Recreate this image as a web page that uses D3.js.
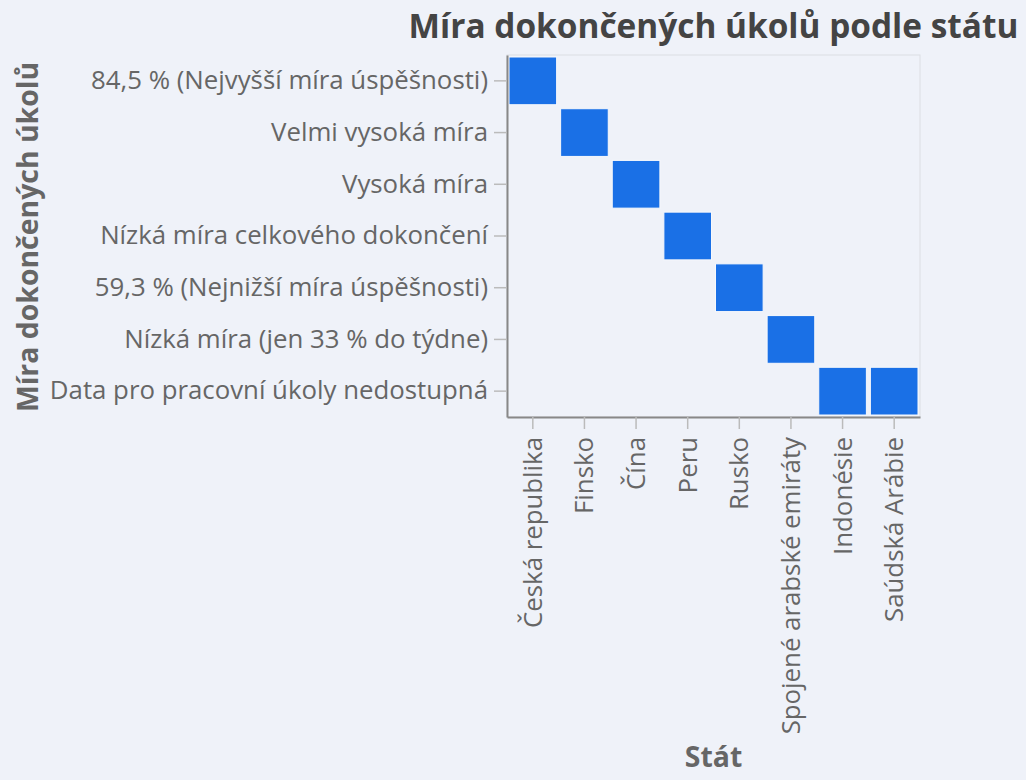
<!DOCTYPE html>
<html>
<head>
<meta charset="utf-8">
<script src="https://cdn.jsdelivr.net/npm/d3@7"></script>
<style>
  html, body { margin: 0; padding: 0; background: #eff2f9; }
  svg { display: block; }
</style>
</head>
<body>
<svg id="chart" width="1026" height="780"></svg>
<script>
// categories
const countries = ["Česká republika", "Finsko", "Čína", "Peru", "Rusko",
  "Spojené arabské emiráty", "Indonésie", "Saúdská Arábie"];
const rates = ["84,5 % (Nejvyšší míra úspěšnosti)", "Velmi vysoká míra", "Vysoká míra",
  "Nízká míra celkového dokončení", "59,3 % (Nejnižší míra úspěšnosti)",
  "Nízká míra (jen 33 % do týdne)", "Data pro pracovní úkoly nedostupná"];
// which rate each country falls in
const countryRate = ["84,5 % (Nejvyšší míra úspěšnosti)", "Velmi vysoká míra", "Vysoká míra",
  "Nízká míra celkového dokončení", "59,3 % (Nejnižší míra úspěšnosti)",
  "Nízká míra (jen 33 % do týdne)", "Data pro pracovní úkoly nedostupná",
  "Data pro pracovní úkoly nedostupná"];

const cells = countries.map((c, i) => ({country: c, rate: countryRate[i]}));

const svg = d3.select("#chart");
const mLeft = 507, mTop = 55, w = 413, h = 362;
const g = svg.append("g").attr("transform", `translate(${mLeft},${mTop})`);

const x = d3.scaleBand().domain(countries).range([0, w]);
const y = d3.scaleBand().domain(rates).range([0, h]);

// frame (light top/right)
g.append("rect").attr("width", w).attr("height", h)
  .attr("fill", "none").attr("stroke", "#dcdee3").attr("stroke-width", 1);

g.selectAll("rect.cell").data(cells).enter().append("rect")
  .attr("class", "cell")
  .attr("x", d => x(d.country) + 2)
  .attr("y", d => y(d.rate) + 2)
  .attr("width", x.bandwidth() - 4)
  .attr("height", y.bandwidth() - 4)
  .attr("fill", "#1a70e6")
  .attr("stroke", "#f6f8fc")
  .attr("stroke-width", 1);

const font = "'Open Sans', 'Noto Sans', sans-serif";

const yAx = g.append("g").call(d3.axisLeft(y).tickSize(13).tickSizeOuter(0).tickPadding(6));
const xAx = g.append("g").attr("transform", `translate(0,${h})`)
  .call(d3.axisBottom(x).tickSize(12).tickSizeOuter(0));

[yAx, xAx].forEach(a => {
  a.select(".domain").attr("stroke", "#888").attr("stroke-width", 2);
  a.selectAll(".tick line").attr("stroke", "#bbb").attr("stroke-width", 1.5);
  a.selectAll(".tick text").attr("fill", "#666")
    .style("font-family", font).style("font-size", "25.8px");
});

xAx.selectAll(".tick text")
  .attr("transform", "rotate(-90)")
  .attr("text-anchor", "end")
  .attr("x", -20).attr("y", 0).attr("dy", "0.35em");

// titles
svg.append("text")
  .attr("x", mLeft + w / 2).attr("y", 38)
  .attr("text-anchor", "middle")
  .attr("fill", "#444")
  .style("font-family", font).style("font-weight", "bold").style("font-size", "33.4px")
  .text("Míra dokončených úkolů podle státu");

svg.append("text")
  .attr("x", mLeft + w / 2).attr("y", 767)
  .attr("text-anchor", "middle")
  .attr("fill", "#666")
  .style("font-family", font).style("font-weight", "bold").style("font-size", "28.4px")
  .text("Stát");

svg.append("text")
  .attr("transform", `translate(38,${mTop + h / 2 + 1}) rotate(-90)`)
  .attr("text-anchor", "middle")
  .attr("fill", "#666")
  .style("font-family", font).style("font-weight", "bold").style("font-size", "28.4px")
  .text("Míra dokončených úkolů");
</script>
</body>
</html>
